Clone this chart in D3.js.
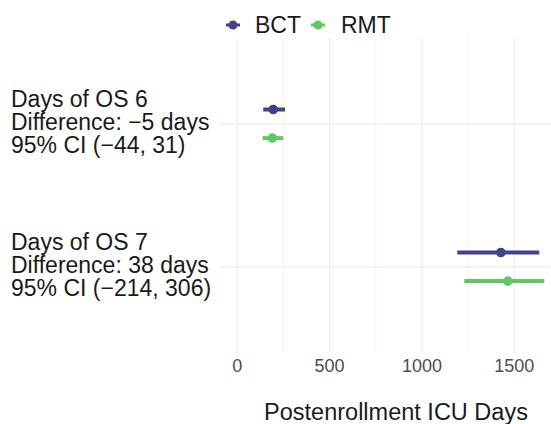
<!DOCTYPE html>
<html>
<head>
<meta charset="utf-8">
<script src="https://cdn.jsdelivr.net/npm/d3@7"></script>
<style>
  html, body { margin: 0; padding: 0; background: #fff; }
  svg { display: block; font-family: "Liberation Sans", Arial, Helvetica, sans-serif; }
</style>
</head>
<body>
<svg id="chart" width="551" height="424"></svg>
<script>
// Outcome groups and the text printed beside each one
const categories = ["Days of OS 6", "Days of OS 7"];
const differenceLabels = ["Difference: \u22125 days", "Difference: 38 days"];
const ciLabels = ["95% CI (\u221244, 31)", "95% CI (\u2212214, 306)"];

// Treatment arms
const series = ["BCT", "RMT"];
const seriesColors = ["#414487", "#5ec962"];

// Estimated days with 95% interval per arm
const bctMean = [195, 1427];
const bctLow = [141, 1191];
const bctHigh = [259, 1635];
const rmtMean = [190, 1465];
const rmtLow = [138, 1229];
const rmtHigh = [249, 1662];

// Axis ticks
const majorTicks = [0, 500, 1000, 1500];
const minorTicks = [250, 750, 1250, 1750];

const svg = d3.select("#chart");

const panel = { left: 220, right: 572, top: 38, bottom: 352.6 };

const x = d3.scaleLinear().domain([-93, 1812]).range([panel.left, panel.right]);
const y = d3.scalePoint().domain(categories).range([panel.top, panel.bottom]).padding(0.6);
const dodge = d3.scalePoint().domain(series).range([-y.step() * 0.1, y.step() * 0.1]);
const color = d3.scaleOrdinal().domain(series).range(seriesColors);

const grid = svg.append("g");
// minor vertical grid
grid.selectAll("line.minor").data(minorTicks).join("line")
  .attr("x1", d => x(d)).attr("x2", d => x(d))
  .attr("y1", panel.top).attr("y2", panel.bottom)
  .attr("stroke", "#efefef").attr("stroke-width", 0.8);
// major vertical grid
grid.selectAll("line.major").data(majorTicks).join("line")
  .attr("x1", d => x(d)).attr("x2", d => x(d))
  .attr("y1", panel.top).attr("y2", panel.bottom)
  .attr("stroke", "#ebebeb").attr("stroke-width", 1.2);
// horizontal grid at each group
grid.selectAll("line.hz").data(categories).join("line")
  .attr("x1", panel.left).attr("x2", panel.right)
  .attr("y1", d => y(d)).attr("y2", d => y(d))
  .attr("stroke", "#ebebeb").attr("stroke-width", 1.2);

// Build point-range rows
const rows = [];
categories.forEach((c, i) => {
  rows.push({ cat: c, s: "BCT", mean: bctMean[i], lo: bctLow[i], hi: bctHigh[i] });
  rows.push({ cat: c, s: "RMT", mean: rmtMean[i], lo: rmtLow[i], hi: rmtHigh[i] });
});

const marks = svg.append("g");
marks.selectAll("line.range").data(rows).join("line")
  .attr("x1", d => x(d.lo)).attr("x2", d => x(d.hi))
  .attr("y1", d => y(d.cat) + dodge(d.s)).attr("y2", d => y(d.cat) + dodge(d.s))
  .attr("stroke", d => color(d.s)).attr("stroke-width", 4);
marks.selectAll("circle").data(rows).join("circle")
  .attr("cx", d => x(d.mean)).attr("cy", d => y(d.cat) + dodge(d.s))
  .attr("r", 4.8).attr("fill", d => color(d.s));

// Group labels on the left (three lines each)
const lineH = 23.3;
const labels = svg.append("g");
categories.forEach((c, i) => {
  const t = labels.append("text")
    .attr("x", 11).attr("y", y(c) - lineH + 6)
    .attr("font-size", 23).attr("fill", "#1a1a1a");
  [c, differenceLabels[i], ciLabels[i]].forEach((line, k) => {
    t.append("tspan").attr("x", 11).attr("dy", k === 0 ? 0 : lineH).text(line);
  });
});

// x axis tick labels
svg.append("g").selectAll("text").data(majorTicks).join("text")
  .attr("x", d => x(d)).attr("y", 372)
  .attr("text-anchor", "middle").attr("font-size", 18).attr("fill", "#4d4d4d")
  .text(d => d);

// x axis title
svg.append("text")
  .attr("x", (panel.left + panel.right) / 2).attr("y", 420)
  .attr("text-anchor", "middle").attr("font-size", 23.5).attr("fill", "#1a1a1a")
  .text("Postenrollment ICU Days");

// Legend
const legendPos = [{ kx: 233, tx: 255 }, { kx: 318, tx: 341 }];
const legend = svg.append("g");
series.forEach((s, i) => {
  const g = legend.append("g");
  g.append("line").attr("x1", legendPos[i].kx - 7).attr("x2", legendPos[i].kx + 7)
    .attr("y1", 25).attr("y2", 25).attr("stroke", color(s)).attr("stroke-width", 3);
  g.append("circle").attr("cx", legendPos[i].kx).attr("cy", 25).attr("r", 4.5).attr("fill", color(s));
  g.append("text").attr("x", legendPos[i].tx).attr("y", 32.5)
    .attr("font-size", 23).attr("fill", "#1a1a1a").text(s);
});
</script>
</body>
</html>
